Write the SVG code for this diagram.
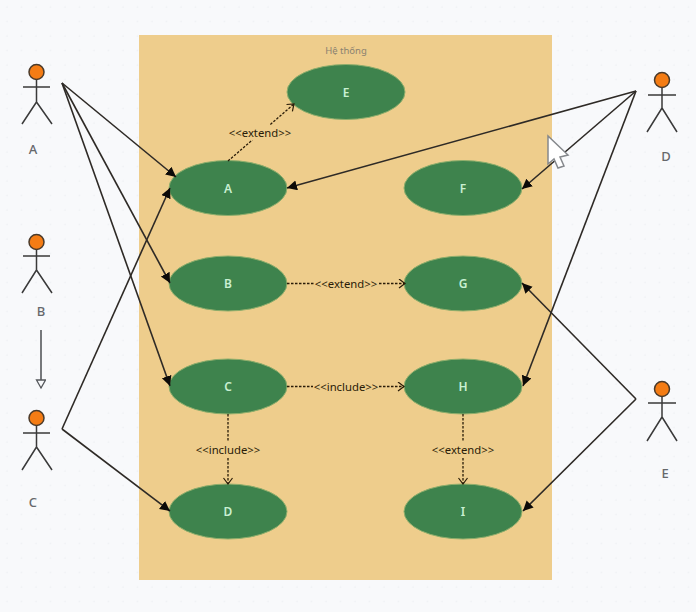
<svg xmlns="http://www.w3.org/2000/svg" width="696" height="612" viewBox="0 0 696 612">
<style>
text{font-family:"Noto Sans","Liberation Sans",sans-serif;text-anchor:middle}
.uc ellipse{fill:#3e834d;stroke:#8fae6c;stroke-width:1}
.uc text{fill:#c9f0d2;font-size:12px;font-weight:600}
.actor circle{fill:#f47c14;stroke:#4a3a2a;stroke-width:1.5}
.actor path{fill:none;stroke:#3a3a3a;stroke-width:1.5}
.actor text{fill:#66686b;font-size:13px;font-weight:500}
.assoc{stroke:#2e2a26;stroke-width:1.6;fill:none;marker-end:url(#solid)}
.dash{stroke:#2a1c08;stroke-width:1.3;stroke-dasharray:2.5 1.5;fill:none;marker-end:url(#open)}
.lab{fill:#2a1c08;font-size:11.3px}
</style>
<defs>
<marker id="solid" markerUnits="userSpaceOnUse" markerWidth="12" markerHeight="12" refX="10" refY="5" orient="auto"><path d="M0 0L10 5L0 10Z" fill="#0c0a08"/></marker>
<marker id="open" markerUnits="userSpaceOnUse" markerWidth="10" markerHeight="12" refX="7" refY="5" orient="auto"><path d="M1 0.5L7 5L1 9.5" fill="none" stroke="#2a1c08" stroke-width="1.2"/></marker>
<marker id="hollow" markerUnits="userSpaceOnUse" markerWidth="12" markerHeight="12" refX="9" refY="5" orient="auto"><path d="M1 0.5L9 5L1 9.5Z" fill="#f8f9fb" stroke="#55585c" stroke-width="1.3"/></marker>
<pattern id="dots" width="14.5" height="14.5" patternUnits="userSpaceOnUse"><circle cx="7" cy="7" r="0.8" fill="#eceef1"/></pattern>
</defs>
<rect width="696" height="612" fill="#f8f9fb"/>
<rect width="696" height="612" fill="url(#dots)"/>
<rect id="system" x="139" y="35" width="413" height="545" fill="#eecd8c"/>
<text x="346" y="54" fill="#8a8270" font-size="9.5">Hệ thống</text>
<g id="usecases" class="uc">
<g id="uc-E"><ellipse cx="346" cy="92" rx="59" ry="27.5"/><text x="346" y="97">E</text></g>
<g id="uc-A"><ellipse cx="228" cy="188" rx="59" ry="27.5"/><text x="228" y="193">A</text></g>
<g id="uc-B"><ellipse cx="228" cy="283.5" rx="59" ry="27.5"/><text x="228" y="288">B</text></g>
<g id="uc-C"><ellipse cx="228" cy="386.5" rx="59" ry="27.5"/><text x="228" y="391">C</text></g>
<g id="uc-D"><ellipse cx="228" cy="511.5" rx="59" ry="27.5"/><text x="228" y="516">D</text></g>
<g id="uc-F"><ellipse cx="463" cy="188" rx="59" ry="27.5"/><text x="463" y="193">F</text></g>
<g id="uc-G"><ellipse cx="463" cy="283.5" rx="59" ry="27.5"/><text x="463" y="288">G</text></g>
<g id="uc-H"><ellipse cx="463" cy="386.5" rx="59" ry="27.5"/><text x="463" y="391">H</text></g>
<g id="uc-I"><ellipse cx="463" cy="511.5" rx="59" ry="27.5"/><text x="463" y="516">I</text></g>
</g>
<g id="connectors">
<path class="assoc" d="M62 83L176 177"/>
<path class="assoc" d="M62 83L170 283"/>
<path class="assoc" d="M62 83L170 386"/>
<path class="assoc" d="M62 429L170 188"/>
<path class="assoc" d="M62 429L170 511"/>
<path class="assoc" d="M636 91L287 188"/>
<path class="assoc" d="M636 91L522 189"/>
<path class="assoc" d="M636 91L523 386"/>
<path class="assoc" d="M636 399L522 283"/>
<path class="assoc" d="M636 399L523 511"/>
<path class="dash" d="M228 161L294 104"/>
<path class="dash" d="M287 283.5L405 283.5"/>
<path class="dash" d="M287 386.5L404 386.5"/>
<path class="dash" d="M228 414L228 484"/>
<path class="dash" d="M463 414L463 484"/>
<path d="M41 330V388" stroke="#55585c" stroke-width="1.6" fill="none" marker-end="url(#hollow)"/>
</g>
<g id="labels">
<rect x="229" y="125" width="62" height="15" fill="#eecd8c"/><text class="lab" x="260" y="137">&lt;&lt;extend&gt;&gt;</text>
<rect x="314" y="276" width="64" height="15" fill="#eecd8c"/><text class="lab" x="346" y="288">&lt;&lt;extend&gt;&gt;</text>
<rect x="313" y="379" width="66" height="15" fill="#eecd8c"/><text class="lab" x="346" y="391">&lt;&lt;include&gt;&gt;</text>
<rect x="195" y="442" width="66" height="15" fill="#eecd8c"/><text class="lab" x="228" y="454">&lt;&lt;include&gt;&gt;</text>
<rect x="431" y="442" width="64" height="15" fill="#eecd8c"/><text class="lab" x="463" y="454">&lt;&lt;extend&gt;&gt;</text>
</g>
<g id="actor-A" class="actor"><circle cx="36.5" cy="72" r="7.5"/><path d="M36.5 80V102M23 87H50M36.5 102L22 124M36.5 102L52 124"/><text x="33" y="154">A</text></g>
<g id="actor-B" class="actor"><circle cx="36.5" cy="242" r="7.5"/><path d="M36.5 250V270M23 256H50M36.5 270L22 293M36.5 270L52 293"/><text x="41" y="316">B</text></g>
<g id="actor-C" class="actor"><circle cx="36.5" cy="418" r="7.5"/><path d="M36.5 426V447M23 433H50M36.5 447L22 470M36.5 447L52 470"/><text x="33" y="507">C</text></g>
<g id="actor-D" class="actor"><circle cx="662" cy="80" r="7.5"/><path d="M662 88V108M648 95H676M662 108L647 132M662 108L677 132"/><text x="666" y="161">D</text></g>
<g id="actor-E" class="actor"><circle cx="662" cy="389" r="7.5"/><path d="M662 397V417M648 403H676M662 417L647 441M662 417L677 441"/><text x="665" y="478">E</text></g>
<path id="cursor" d="M548 136V164L554 159L558 168L564 166L560 157L568 155Z" fill="#fff" stroke="#85888c" stroke-width="1.5"/>
</svg>
